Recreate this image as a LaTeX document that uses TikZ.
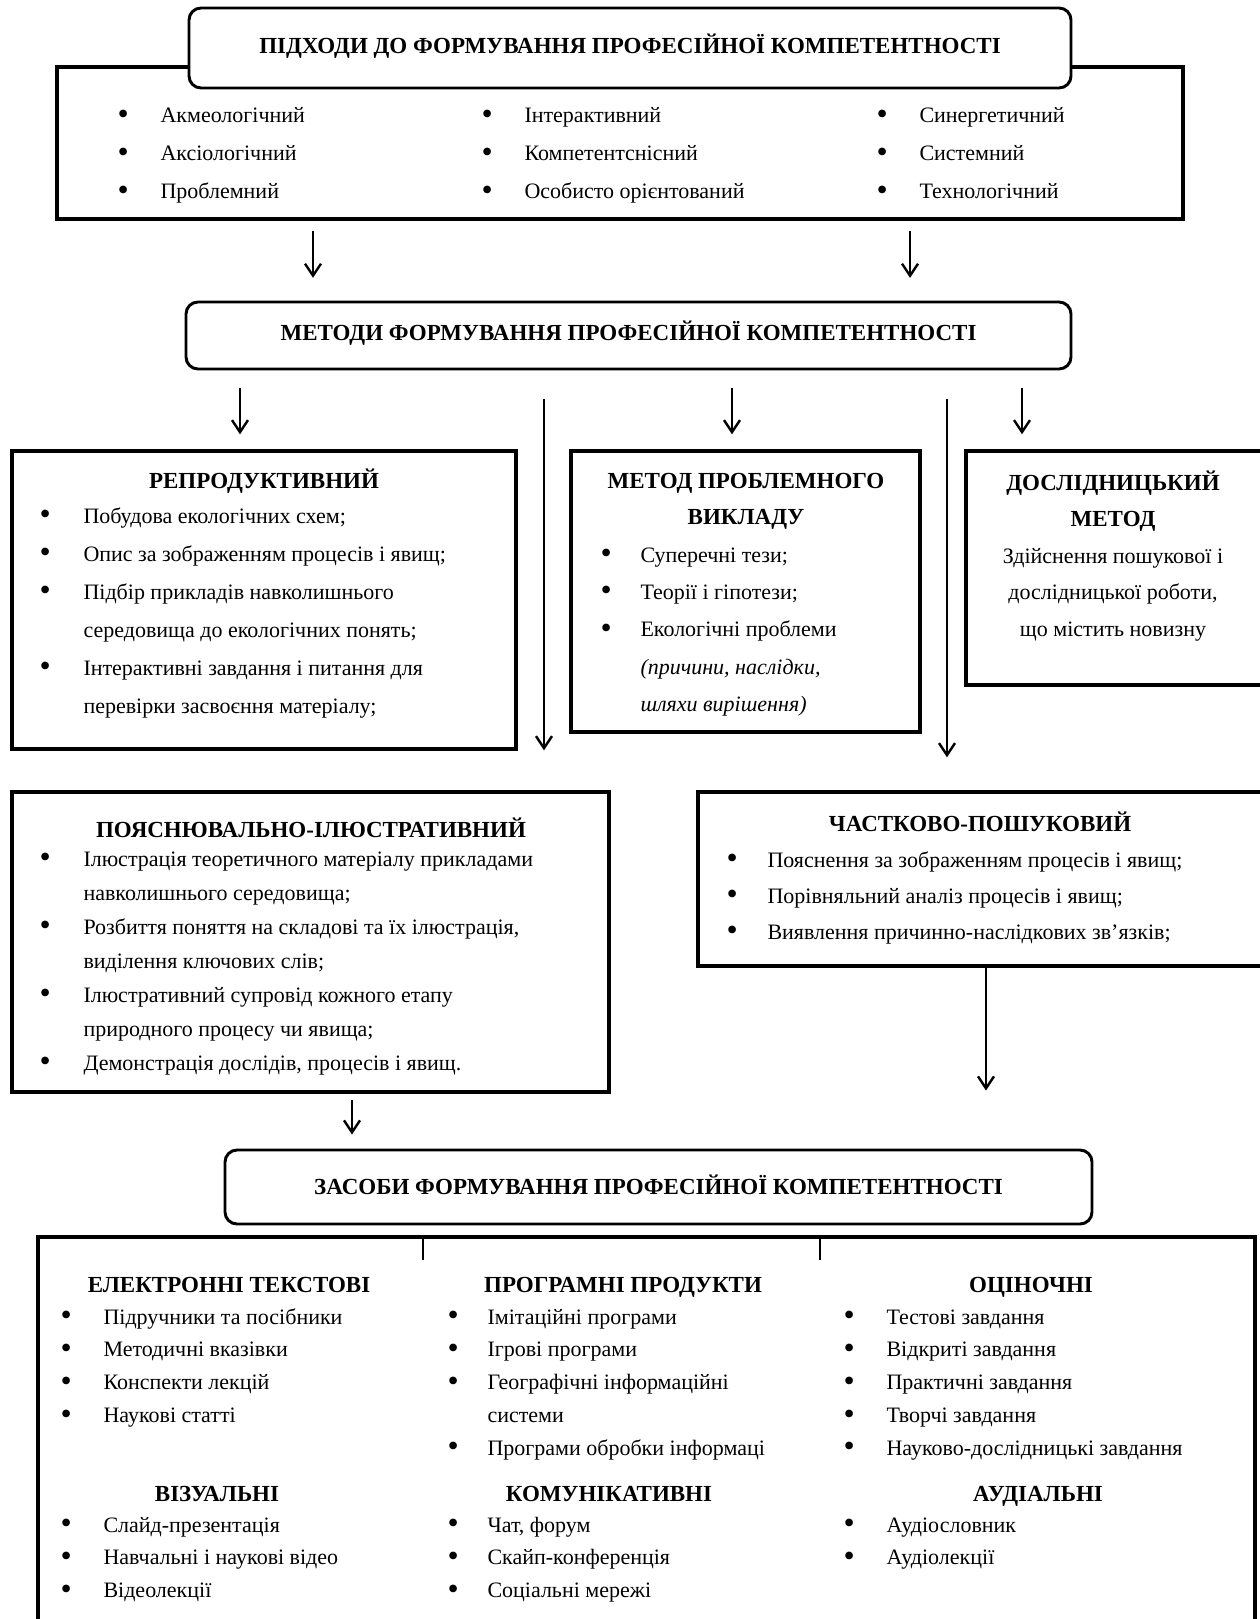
\documentclass[tikz,border=0pt]{standalone}
\usepackage{fontspec}
\setmainfont{Liberation Serif}
\usetikzlibrary{arrows.meta,fit}

\tikzset{every picture/.style={line width=0.75pt}}
\tikzset{
  frm/.style={draw, line width=2.6pt, inner sep=0pt},
  frmthick/.style={draw, line width=3.4pt, inner sep=0pt},
  ttl/.style={draw, fill=white, rounded corners=9pt, line width=2.2pt, inner sep=0pt},
  ttltxt/.style={anchor=center, inner sep=0pt, yshift=1.5pt, font=\fontsize{17.25}{20}\selectfont\bfseries},
  hd/.style={anchor=base, inner sep=0pt, font=\fontsize{17.25}{#1}\selectfont\bfseries},
  hd/.default=27,
  lst/.style={anchor=base west, inner sep=0pt, font=\fontsize{16.5}{#1}\selectfont},
  arr/.style={line width=1.8pt, -{Straight Barb[length=9pt,width=12pt]}},
  tick/.style={line width=1.5pt}
}
\newcommand{\blist}[2]{\begin{tabular}[t]{@{}p{#1}@{}l@{}}#2\end{tabular}}
\newcommand{\clist}[1]{\begin{tabular}[t]{@{}c@{}}#1\end{tabular}}
\newcommand{\bu}{\raisebox{-1.2pt}{\scalebox{1.45}{\textbullet}}}

\begin{document}
\begin{tikzpicture}[x=0.75pt,y=0.75pt,yscale=-1,xscale=1]
	\useasboundingbox[fill=white] (0,0) rectangle (1259,1619);
	
	%Shape: Rectangle [approaches]
	\node[frmthick, fit={(57,67) (1183,219)}] (apo) {};
	%Shape: Rounded Rect [approaches title]
	\node[ttl, fit={(189,8) (1071,88)}] (apt) {};
	% Text Node
	\node[ttltxt] (aptx) at (apt.center) {ПІДХОДИ ДО ФОРМУВАННЯ ПРОФЕСІЙНОЇ КОМПЕТЕНТНОСТІ};
	% Text Node
	\node[lst=28.5] (la1) at (117,123) {\blist{32.25pt}{\bu & Акмеологічний\\ \bu & Аксіологічний\\ \bu & Проблемний}};
	% Text Node
	\node[lst=28.5] (la2) at (481,123) {\blist{32.25pt}{\bu & Інтерактивний\\ \bu & Компетентснісний\\ \bu & Особисто орієнтований}};
	% Text Node
	\node[lst=28.5] (la3) at (876,123) {\blist{32.25pt}{\bu & Синергетичний\\ \bu & Системний\\ \bu & Технологічний}};
	
	%Shape: Rounded Rect [methods]
	\node[ttl, fit={(186,302) (1071,369)}] (met) {};
	% Text Node
	\node[ttltxt] (metx) at (met.center) {МЕТОДИ ФОРМУВАННЯ ПРОФЕСІЙНОЇ КОМПЕТЕНТНОСТІ};
	
	%Shape: Rectangle [reproductive]
	\node[frm, fit={(12,451) (516,749)}] (rep) {};
	% Text Node
	\node[hd] (reph) at (264,488) {РЕПРОДУКТИВНИЙ};
	% Text Node
	\node[lst=28.5] (repl) at (39,523) {\blist{33pt}{\bu & Побудова екологічних схем;\\ \bu & Опис за зображенням процесів і явищ;\\ \bu & Підбір прикладів навколишнього\\ & середовища до екологічних понять;\\ \bu & Інтерактивні завдання і питання для\\ & перевірки засвоєння матеріалу;}};
	
	%Shape: Rectangle [problem method]
	\node[frm, fit={(571,451) (920,732)}] (prb) {};
	% Text Node
	\node[hd=27] (prbh) at (746,488) {\clist{МЕТОД ПРОБЛЕМНОГО\\ ВИКЛАДУ}};
	% Text Node
	\node[lst=28] (prbl) at (600,562) {\blist{30pt}{\bu & Суперечні тези;\\ \bu & Теорії і гіпотези;\\ \bu & Екологічні проблеми\\ & \textit{(причини, наслідки,}\\ & \textit{шляхи вирішення)}}};
	
	%Shape: Rectangle [research method]
	\node[frm, fit={(966,451) (1265,685)}] (dos) {};
	% Text Node
	\node[anchor=base, inner sep=0pt, font=\fontsize{16.5}{27.4}\selectfont] (dosl) at (1113,490) {\clist{\fontsize{17.25}{27.4}\selectfont\bfseries ДОСЛІДНИЦЬКИЙ\\ \fontsize{17.25}{27.4}\selectfont\bfseries МЕТОД\\ Здійснення пошукової і\\ дослідницької роботи,\\ що містить новизну}};
	
	%Shape: Rectangle [explanatory]
	\node[frm, fit={(12,792) (609,1092)}] (poj) {};
	% Text Node
	\node[hd] (pojh) at (311,837) {ПОЯСНЮВАЛЬНО-ІЛЮСТРАТИВНИЙ};
	% Text Node
	\node[lst=25.5] (pojl) at (39,866) {\blist{33pt}{\bu & Ілюстрація теоретичного матеріалу прикладами\\ & навколишнього середовища;\\ \bu & Розбиття поняття на складові та їх ілюстрація,\\ & виділення ключових слів;\\ \bu & Ілюстративний супровід кожного етапу\\ & природного процесу чи явища;\\ \bu & Демонстрація дослідів, процесів і явищ.}};
	
	%Shape: Rectangle [partial search]
	\node[frm, fit={(698,792) (1265,966)}] (cha) {};
	% Text Node
	\node[hd] (chah) at (980,831) {ЧАСТКОВО-ПОШУКОВИЙ};
	% Text Node
	\node[lst=27] (chal) at (726,867) {\blist{30.75pt}{\bu & Пояснення за зображенням процесів і явищ;\\ \bu & Порівняльний аналіз процесів і явищ;\\ \bu & Виявлення причинно-наслідкових зв’язків;}};
	
	%Shape: Rounded Rect [means]
	\node[ttl, fit={(225,1150) (1092,1224)}] (zas) {};
	% Text Node
	\node[ttltxt] (zasx) at (zas.center) {ЗАСОБИ ФОРМУВАННЯ ПРОФЕСІЙНОЇ КОМПЕТЕНТНОСТІ};
	%Shape: Rectangle [means list]
	\node[frmthick, fit={(38,1237) (1255,1660)}] (zso) {};
	
	% Text Node
	\node[hd] (elh) at (229,1292) {ЕЛЕКТРОННІ ТЕКСТОВІ};
	\node[lst=24.6] (ell) at (60,1324) {\blist{32.25pt}{\bu & Підручники та посібники\\ \bu & Методичні вказівки\\ \bu & Конспекти лекцій\\ \bu & Наукові статті}};
	% Text Node
	\node[hd] (vih) at (217,1501) {ВІЗУАЛЬНІ};
	\node[lst=24.6] (vil) at (60,1532) {\blist{32.25pt}{\bu & Слайд-презентація\\ \bu & Навчальні і наукові відео\\ \bu & Відеолекції}};
	% Text Node
	\node[hd] (prh) at (623,1292) {ПРОГРАМНІ ПРОДУКТИ};
	\node[lst=24.6] (prl) at (447,1324) {\blist{30pt}{\bu & Імітаційні програми\\ \bu & Ігрові програми\\ \bu & Географічні інформаційні\\ & системи\\ \bu & Програми обробки інформаці}};
	% Text Node
	\node[hd] (koh) at (609,1501) {КОМУНІКАТИВНІ};
	\node[lst=24.6] (kol) at (447,1532) {\blist{30pt}{\bu & Чат, форум\\ \bu & Скайп-конференція\\ \bu & Соціальні мережі}};
	% Text Node
	\node[hd] (och) at (1031,1292) {ОЦІНОЧНІ};
	\node[lst=24.6] (ocl) at (843,1324) {\blist{32.25pt}{\bu & Тестові завдання\\ \bu & Відкриті завдання\\ \bu & Практичні завдання\\ \bu & Творчі завдання\\ \bu & Науково-дослідницькі завдання}};
	% Text Node
	\node[hd] (auh) at (1038,1501) {АУДІАЛЬНІ};
	\node[lst=24.6] (aul) at (843,1532) {\blist{32.25pt}{\bu & Аудіословник\\ \bu & Аудіолекції}};
	
	%Straight Lines [arrow columns]
	\coordinate (x1) at (313,0);
	\coordinate (x2) at (910,0);
	\coordinate (x3) at (240,0);
	\coordinate (x4) at (544,0);
	\coordinate (x5) at (732,0);
	\coordinate (x6) at (947,0);
	\coordinate (x7) at (1022,0);
	\coordinate (x8) at (352,0);
	\coordinate (x9) at (986,0);
	\coordinate (t1) at (423,0);
	\coordinate (t2) at (820,0);
	
	%Straight Lines
	\draw[arr, shorten <=7.5pt, shorten >=17pt] (apo.south -| x1) -- (met.north -| x1);
	\draw[arr, shorten <=7.5pt, shorten >=17pt] (apo.south -| x2) -- (met.north -| x2);
	%Straight Lines
	\draw[arr, shorten <=13.5pt, shorten >=11.25pt] (met.south -| x3) -- (rep.north -| x3);
	\draw[arr, shorten <=13.5pt, shorten >=11.25pt] (met.south -| x5) -- (prb.north -| x5);
	\draw[arr, shorten <=13.5pt, shorten >=11.25pt] (met.south -| x7) -- (dos.north -| x7);
	%Straight Lines
	\draw[arr, shorten <=21.75pt, shorten >=30pt] (met.south -| x4) -- (poj.north -| x4);
	\draw[arr, shorten <=21.75pt, shorten >=24.75pt] (met.south -| x6) -- (cha.north -| x6);
	%Straight Lines
	\draw[arr, shorten <=4.5pt, shorten >=10.5pt] (poj.south -| x8) -- (zas.north -| x8);
	\draw[arr, shorten >=43.5pt] (cha.south -| x9) -- (zas.north -| x9);
	%Straight Lines [ticks]
	\draw[tick] (zso.north -| t1) -- ++(0,25);
	\draw[tick] (zso.north -| t2) -- ++(0,25);
	
\end{tikzpicture}
\end{document}
